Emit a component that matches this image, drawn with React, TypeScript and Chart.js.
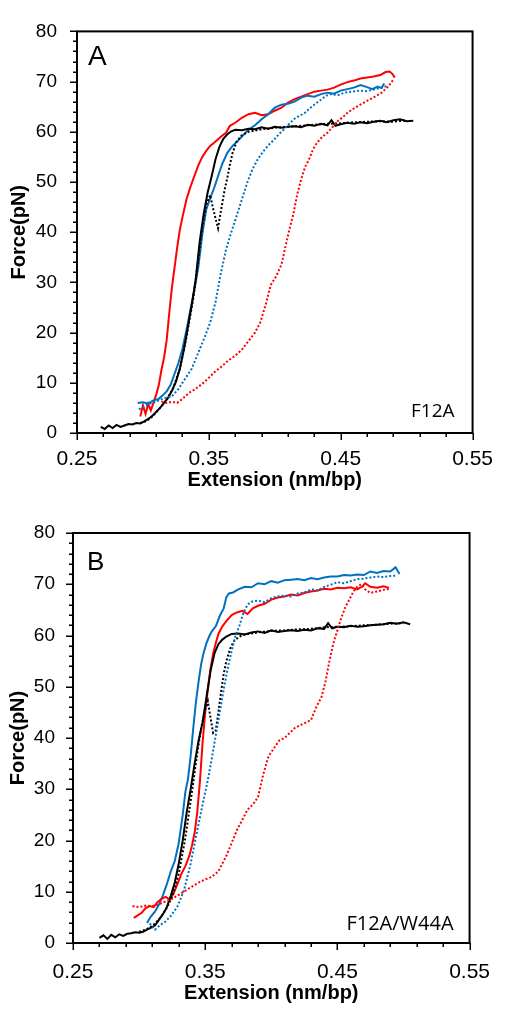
import React, { useEffect, useRef } from "react";
import { Chart, registerables } from "chart.js";

Chart.register(...registerables);

// ---------- shared axis content ----------
const xTickValues = [0.25, 0.35, 0.45, 0.55];
const yTickValues = [0, 10, 20, 30, 40, 50, 60, 70, 80];
const xAxisTitle = "Extension (nm/bp)";
const yAxisTitle = "Force(pN)";
const panelLetters = ["A", "B"];
const panelNotes = ["F12A", "F12A/W44A"];

// ---------- Panel A data ([extension, force]) ----------
const aBlackSolid = [
  [0.268, 1.2], [0.271, 0.8], [0.274, 1.5], [0.277, 1.0], [0.28, 1.6], [0.283, 1.2], [0.286, 1.5], [0.289, 1.8],
  [0.292, 1.7], [0.295, 2.0], [0.298, 1.9], [0.301, 2.3], [0.304, 2.8], [0.307, 3.4], [0.31, 4.2], [0.313, 5.0],
  [0.316, 6.0], [0.319, 7.0], [0.322, 8.4], [0.325, 10.2], [0.328, 12.8], [0.331, 16.5], [0.334, 21.0], [0.337, 25.5],
  [0.34, 30.5], [0.343, 38.0], [0.346, 43.5], [0.349, 47.8], [0.352, 51.0], [0.355, 54.5], [0.358, 57.0], [0.361, 58.6],
  [0.364, 59.5], [0.367, 60.1], [0.37, 60.4], [0.375, 60.3], [0.38, 60.6], [0.385, 60.5], [0.39, 60.9], [0.395, 60.6],
  [0.4, 61.0], [0.405, 60.8], [0.41, 61.0], [0.415, 61.1], [0.42, 60.9], [0.425, 61.4], [0.43, 61.2], [0.435, 61.6],
  [0.44, 61.3], [0.443, 62.3], [0.446, 61.2], [0.45, 61.5], [0.455, 61.8], [0.46, 61.6], [0.465, 61.9], [0.47, 61.7],
  [0.475, 62.0], [0.48, 62.2], [0.485, 61.9], [0.49, 62.3], [0.495, 62.5], [0.5, 62.1], [0.505, 62.2],
];
const aBlackDotted = [
  [0.298, 2.0], [0.303, 2.4], [0.308, 3.5], [0.313, 5.0], [0.318, 6.6], [0.323, 9.0], [0.328, 12.8], [0.333, 19.0],
  [0.338, 26.5], [0.342, 34.5], [0.345, 41.0], [0.348, 45.5], [0.351, 47.4], [0.353, 45.0], [0.355, 42.8], [0.357, 40.8],
  [0.358, 42.5], [0.36, 45.5], [0.362, 48.5], [0.364, 50.8], [0.366, 53.5], [0.368, 55.8], [0.371, 58.0], [0.375, 59.3],
  [0.38, 60.0], [0.39, 60.5], [0.4, 60.8], [0.41, 61.0], [0.42, 61.2], [0.43, 61.4], [0.44, 61.6], [0.45, 61.7],
  [0.46, 61.9], [0.47, 62.0], [0.48, 62.1], [0.49, 62.0], [0.5, 62.3],
];
const aRedSolid = [
  [0.298, 3.3], [0.3, 5.5], [0.302, 3.8], [0.304, 5.8], [0.306, 4.5], [0.308, 6.0], [0.31, 7.6], [0.312, 9.5],
  [0.314, 12.5], [0.316, 15.0], [0.318, 18.5], [0.32, 24.0], [0.322, 29.0], [0.324, 33.0], [0.326, 37.0], [0.328, 40.5],
  [0.33, 43.0], [0.333, 46.5], [0.336, 49.0], [0.339, 51.2], [0.342, 53.3], [0.345, 55.0], [0.348, 56.2], [0.351, 57.2],
  [0.354, 57.8], [0.357, 58.5], [0.36, 59.2], [0.363, 59.8], [0.366, 61.2], [0.37, 61.8], [0.375, 62.8], [0.38, 63.5],
  [0.385, 63.8], [0.39, 63.3], [0.395, 63.5], [0.4, 64.2], [0.405, 64.8], [0.41, 65.8], [0.415, 66.5], [0.42, 67.0],
  [0.425, 67.5], [0.43, 68.0], [0.435, 68.2], [0.44, 68.4], [0.445, 68.8], [0.45, 69.4], [0.455, 69.9], [0.46, 70.2],
  [0.465, 70.6], [0.47, 70.8], [0.475, 71.0], [0.48, 71.3], [0.484, 71.9], [0.487, 72.0], [0.489, 71.6], [0.491, 70.8],
];
const aRedDotted = [
  [0.314, 6.3], [0.318, 6.0], [0.322, 6.2], [0.326, 6.0], [0.33, 6.8], [0.335, 8.0], [0.34, 8.8], [0.345, 9.8],
  [0.35, 11.0], [0.355, 12.3], [0.36, 13.3], [0.365, 14.5], [0.37, 15.4], [0.375, 16.6], [0.38, 18.3], [0.385, 20.0],
  [0.389, 22.0], [0.393, 25.5], [0.397, 29.5], [0.401, 31.2], [0.405, 33.5], [0.408, 37.0], [0.411, 40.5], [0.414, 43.5],
  [0.417, 47.5], [0.42, 50.5], [0.423, 53.0], [0.426, 54.5], [0.429, 56.5], [0.432, 57.8], [0.436, 59.0], [0.44, 59.8],
  [0.444, 61.0], [0.448, 62.2], [0.452, 63.0], [0.456, 64.0], [0.461, 64.8], [0.466, 65.6], [0.471, 66.3], [0.476, 67.0],
  [0.481, 67.8], [0.486, 69.0], [0.49, 70.4],
];
const aBlueSolid = [
  [0.296, 6.0], [0.3, 6.1], [0.304, 5.9], [0.308, 6.5], [0.312, 6.8], [0.315, 7.5], [0.318, 8.3], [0.321, 9.6],
  [0.324, 11.8], [0.327, 14.0], [0.33, 16.8], [0.333, 20.5], [0.336, 24.5], [0.339, 28.5], [0.342, 33.0], [0.345, 39.5],
  [0.348, 44.5], [0.351, 46.8], [0.354, 48.8], [0.357, 51.2], [0.36, 53.5], [0.364, 55.8], [0.368, 57.2], [0.372, 58.2],
  [0.376, 59.3], [0.38, 60.4], [0.385, 61.3], [0.39, 62.5], [0.395, 63.5], [0.4, 64.8], [0.405, 65.4], [0.41, 65.6],
  [0.415, 66.0], [0.42, 66.8], [0.425, 67.2], [0.43, 67.0], [0.435, 67.5], [0.44, 67.8], [0.445, 67.6], [0.45, 68.2],
  [0.455, 68.5], [0.46, 68.8], [0.465, 69.3], [0.47, 68.9], [0.474, 68.5], [0.478, 69.0], [0.481, 68.7], [0.483, 69.6],
];
const aBlueDotted = [
  [0.297, 4.7], [0.302, 5.5], [0.307, 6.0], [0.312, 6.5], [0.317, 7.0], [0.322, 7.3], [0.327, 8.8], [0.332, 10.8],
  [0.337, 12.8], [0.342, 16.0], [0.347, 19.2], [0.351, 22.0], [0.355, 26.0], [0.359, 31.7], [0.363, 36.5], [0.367, 40.0],
  [0.371, 43.2], [0.375, 46.5], [0.379, 49.8], [0.383, 52.5], [0.387, 54.5], [0.391, 56.0], [0.395, 57.3], [0.399, 58.3],
  [0.403, 59.5], [0.407, 60.5], [0.411, 61.6], [0.415, 62.6], [0.419, 63.2], [0.423, 63.8], [0.427, 64.8], [0.431, 65.6],
  [0.435, 66.4], [0.439, 67.2], [0.443, 67.5], [0.448, 67.3], [0.453, 67.8], [0.458, 68.0], [0.464, 68.2], [0.47, 68.1],
  [0.476, 68.5], [0.482, 68.9], [0.486, 69.2],
];

// ---------- Panel B data ([extension, force]) ----------
const bBlackSolid = [
  [0.27, 1.0], [0.273, 1.5], [0.276, 0.8], [0.279, 1.6], [0.282, 1.1], [0.285, 1.7], [0.288, 1.4], [0.291, 1.8],
  [0.294, 1.9], [0.297, 2.1], [0.3, 2.0], [0.303, 2.2], [0.306, 2.6], [0.309, 3.0], [0.312, 3.4], [0.315, 4.5],
  [0.318, 5.6], [0.321, 7.0], [0.324, 9.2], [0.327, 11.8], [0.33, 15.5], [0.333, 20.0], [0.336, 25.5], [0.339, 30.0],
  [0.342, 35.0], [0.345, 39.5], [0.348, 43.0], [0.351, 48.0], [0.354, 53.0], [0.357, 56.5], [0.36, 58.3], [0.363, 59.2],
  [0.366, 59.8], [0.37, 60.3], [0.375, 60.4], [0.38, 60.2], [0.385, 60.6], [0.39, 60.8], [0.395, 60.5], [0.4, 61.0],
  [0.405, 60.7], [0.41, 60.9], [0.415, 61.0], [0.42, 60.9], [0.425, 61.1], [0.43, 61.0], [0.435, 61.4], [0.44, 61.3],
  [0.443, 62.4], [0.446, 61.4], [0.45, 61.7], [0.455, 61.6], [0.46, 61.9], [0.465, 61.7], [0.47, 61.8], [0.475, 62.0],
  [0.48, 62.1], [0.485, 62.2], [0.49, 62.5], [0.495, 62.3], [0.5, 62.6], [0.505, 62.2],
];
const bBlackDotted = [
  [0.3, 2.2], [0.305, 2.6], [0.31, 3.3], [0.315, 4.6], [0.32, 6.4], [0.325, 9.0], [0.33, 13.5], [0.335, 20.5],
  [0.34, 29.5], [0.344, 37.0], [0.347, 42.0], [0.35, 45.5], [0.352, 47.2], [0.354, 44.0], [0.356, 41.0], [0.358, 41.5],
  [0.36, 45.0], [0.362, 49.0], [0.364, 52.5], [0.366, 55.0], [0.369, 57.5], [0.372, 59.0], [0.376, 59.8], [0.38, 60.2],
  [0.39, 60.6], [0.4, 60.9], [0.41, 61.0], [0.42, 61.2], [0.43, 61.3], [0.44, 61.6], [0.45, 61.7], [0.46, 61.8],
  [0.47, 62.0], [0.48, 62.1], [0.49, 62.3], [0.5, 62.4],
];
const bRedSolid = [
  [0.296, 4.9], [0.299, 5.4], [0.302, 5.9], [0.305, 6.8], [0.308, 7.2], [0.311, 7.0], [0.314, 8.0], [0.317, 8.6],
  [0.32, 9.0], [0.323, 8.5], [0.326, 9.6], [0.329, 11.5], [0.332, 13.5], [0.335, 15.0], [0.338, 17.0], [0.34, 19.0],
  [0.342, 21.5], [0.344, 25.5], [0.346, 31.5], [0.348, 39.0], [0.35, 45.0], [0.352, 49.5], [0.354, 53.5], [0.356, 56.5],
  [0.358, 58.5], [0.36, 60.3], [0.363, 61.8], [0.366, 62.8], [0.37, 64.0], [0.374, 64.5], [0.378, 64.8], [0.382, 64.2],
  [0.386, 65.3], [0.39, 65.8], [0.395, 66.2], [0.4, 67.0], [0.405, 67.4], [0.41, 67.6], [0.415, 68.0], [0.42, 67.8],
  [0.425, 68.3], [0.43, 68.6], [0.435, 68.8], [0.44, 69.1], [0.445, 69.0], [0.45, 69.3], [0.455, 69.2], [0.46, 69.4],
  [0.465, 69.0], [0.469, 69.6], [0.471, 70.2], [0.475, 69.5], [0.48, 69.3], [0.485, 69.6], [0.489, 69.3],
];
const bRedDotted = [
  [0.295, 7.2], [0.3, 7.0], [0.305, 7.3], [0.31, 7.2], [0.315, 7.6], [0.32, 8.1], [0.325, 8.6], [0.33, 9.4],
  [0.335, 10.2], [0.34, 11.0], [0.345, 11.8], [0.35, 12.4], [0.355, 12.9], [0.36, 14.0], [0.366, 17.0], [0.37, 19.5],
  [0.374, 22.0], [0.378, 24.0], [0.382, 26.0], [0.386, 27.0], [0.39, 28.5], [0.394, 33.0], [0.398, 36.5], [0.402, 38.0],
  [0.406, 39.5], [0.41, 40.0], [0.414, 41.0], [0.418, 42.0], [0.422, 42.5], [0.426, 43.0], [0.43, 43.5], [0.434, 46.0],
  [0.438, 48.0], [0.441, 51.0], [0.444, 55.0], [0.447, 58.5], [0.45, 61.0], [0.453, 63.5], [0.456, 65.5], [0.459, 67.0],
  [0.462, 68.5], [0.465, 69.5], [0.468, 70.0], [0.471, 69.0], [0.475, 68.3], [0.48, 68.6], [0.485, 68.9], [0.489, 69.1],
];
const bBlueSolid = [
  [0.306, 3.9], [0.309, 5.2], [0.312, 6.1], [0.315, 7.5], [0.318, 9.3], [0.321, 11.5], [0.324, 14.0], [0.327, 16.0],
  [0.33, 19.5], [0.333, 25.0], [0.335, 29.5], [0.337, 32.0], [0.339, 36.5], [0.341, 42.0], [0.343, 47.0], [0.345, 51.0],
  [0.347, 54.5], [0.349, 56.8], [0.351, 58.5], [0.353, 59.8], [0.355, 60.8], [0.358, 61.8], [0.361, 63.8], [0.364, 65.3],
  [0.366, 67.5], [0.368, 68.2], [0.371, 68.4], [0.375, 69.0], [0.38, 69.5], [0.385, 69.4], [0.39, 70.2], [0.395, 70.0],
  [0.4, 70.6], [0.405, 70.3], [0.41, 70.8], [0.415, 70.9], [0.42, 71.0], [0.425, 70.8], [0.43, 71.2], [0.435, 71.0],
  [0.44, 71.3], [0.445, 71.5], [0.45, 71.5], [0.455, 71.8], [0.46, 71.7], [0.465, 71.9], [0.47, 71.8], [0.475, 72.5],
  [0.48, 72.2], [0.485, 72.6], [0.49, 72.5], [0.494, 73.3], [0.497, 72.0],
];
const bBlueDotted = [
  [0.308, 3.8], [0.312, 2.6], [0.316, 3.5], [0.32, 4.2], [0.324, 5.3], [0.329, 7.1], [0.334, 10.3], [0.339, 15.5],
  [0.344, 22.0], [0.348, 27.0], [0.352, 31.8], [0.355, 36.0], [0.358, 40.5], [0.361, 45.0], [0.364, 49.5],
  [0.367, 53.5], [0.37, 57.0], [0.373, 60.0], [0.376, 62.0], [0.379, 64.5], [0.382, 66.0], [0.385, 66.6], [0.39, 66.8],
  [0.395, 66.5], [0.4, 67.3], [0.405, 67.6], [0.41, 67.8], [0.415, 67.6], [0.42, 68.2], [0.425, 68.4], [0.43, 69.0],
  [0.435, 68.8], [0.44, 69.5], [0.445, 69.9], [0.45, 70.4], [0.455, 70.2], [0.46, 70.6], [0.465, 71.0], [0.47, 71.1],
  [0.475, 71.3], [0.48, 71.5], [0.485, 71.4], [0.49, 71.6], [0.495, 71.7],
];

const RED = "#FF0000";
const BLUE = "#0070C0";
const BLACK = "#000000";
const FONT = '"Liberation Sans", Arial, sans-serif';
const NOTE_FONT = '"Open Sans", "Liberation Sans", sans-serif';

type Series = { pts: number[][]; color: string; dotted: boolean };

const seriesA: Series[] = [
  { pts: aRedDotted, color: RED, dotted: true },
  { pts: aBlueDotted, color: BLUE, dotted: true },
  { pts: aBlackDotted, color: BLACK, dotted: true },
  { pts: aBlackSolid, color: BLACK, dotted: false },
  { pts: aBlueSolid, color: BLUE, dotted: false },
  { pts: aRedSolid, color: RED, dotted: false },
];
const seriesB: Series[] = [
  { pts: bRedDotted, color: RED, dotted: true },
  { pts: bBlueDotted, color: BLUE, dotted: true },
  { pts: bBlackDotted, color: BLACK, dotted: true },
  { pts: bBlackSolid, color: BLACK, dotted: false },
  { pts: bRedSolid, color: RED, dotted: false },
  { pts: bBlueSolid, color: BLUE, dotted: false },
];

type Layout = {
  height: number;
  padTop: number;
  padRight: number;
  yWidth: number;
  xHeight: number;
  yTickPad: number;
  xTickPad: number;
  xTitlePad: number;
  yTitlePad: number;
  letterSize: number;
  letterDx: number;
  letterDy: number;
  noteSize: number;
  noteDx: number;
  noteDy: number;
};

function Panel({ series, letter, note, lay }: { series: Series[]; letter: string; note: string; lay: Layout }) {
  const ref = useRef<HTMLCanvasElement>(null);
  useEffect(() => {
    const canvas = ref.current;
    if (!canvas) return;
    const framePlugin = {
      id: "frameTicks",
      afterDatasetsDraw(chart: any) {
        const { ctx, chartArea: ca, scales } = chart;
        const xs = scales.x;
        const ys = scales.y;
        ctx.save();
        ctx.strokeStyle = "#000";
        ctx.lineWidth = 1.5;
        ctx.beginPath();
        for (let k = 0; k <= 15; k++) {
          const px = Math.round(xs.getPixelForValue(0.25 + 0.02 * k)) + 0.25;
          const len = k % 5 === 0 ? 7 : 4;
          ctx.moveTo(px, ca.bottom);
          ctx.lineTo(px, ca.bottom + len);
        }
        for (let k = 0; k <= 40; k++) {
          const py = Math.round(ys.getPixelForValue(2 * k)) + 0.25;
          const len = k % 5 === 0 ? 7 : 4;
          ctx.moveTo(ca.left - len, py);
          ctx.lineTo(ca.left, py);
        }
        ctx.stroke();
        ctx.lineWidth = 2;
        ctx.strokeRect(ca.left, ca.top, ca.right - ca.left, ca.bottom - ca.top);
        ctx.fillStyle = "#000";
        ctx.textBaseline = "alphabetic";
        ctx.textAlign = "left";
        ctx.font = `${lay.letterSize}px ${FONT}`;
        ctx.fillText(letter, ca.left + lay.letterDx, ca.top + lay.letterDy);
        ctx.textAlign = "right";
        ctx.font = `${lay.noteSize}px ${NOTE_FONT}`;
        ctx.fillText(note, ca.right - lay.noteDx, ca.bottom - lay.noteDy);
        ctx.restore();
      },
    };
    const chart = new Chart(canvas, {
      type: "scatter",
      data: {
        datasets: series.map((s) => ({
          data: s.pts.map((p) => ({ x: p[0], y: p[1] })),
          showLine: true,
          borderColor: s.color,
          backgroundColor: s.color,
          borderWidth: 2,
          borderDash: s.dotted ? [2, 2] : [],
          pointRadius: 0,
          pointHoverRadius: 0,
          tension: 0,
        })),
      },
      options: {
        animation: false,
        responsive: false,
        events: [],
        layout: { padding: { top: lay.padTop, right: lay.padRight, left: 0, bottom: 0 } },
        plugins: { legend: { display: false }, tooltip: { enabled: false } },
        scales: {
          x: {
            type: "linear",
            min: 0.25,
            max: 0.55,
            grid: { display: false, drawTicks: false },
            border: { display: false },
            afterBuildTicks: (s: any) => {
              s.ticks = xTickValues.map((v) => ({ value: v }));
            },
            afterFit: (s: any) => {
              s.height = lay.xHeight;
            },
            ticks: {
              autoSkip: false,
              maxRotation: 0,
              padding: lay.xTickPad,
              color: "#000",
              font: { family: FONT, size: 21 },
              callback: (v: any) => Number(v).toFixed(2),
            },
            title: {
              display: true,
              text: xAxisTitle,
              color: "#000",
              font: { family: FONT, size: 20, weight: "bold" },
              padding: { top: 0, bottom: lay.xTitlePad },
            },
          },
          y: {
            type: "linear",
            min: 0,
            max: 80,
            grid: { display: false, drawTicks: false },
            border: { display: false },
            afterBuildTicks: (s: any) => {
              s.ticks = yTickValues.map((v) => ({ value: v }));
            },
            afterFit: (s: any) => {
              s.width = lay.yWidth;
            },
            ticks: {
              padding: lay.yTickPad,
              color: "#000",
              font: { family: FONT, size: 19 },
              callback: (v: any) => String(v),
            },
            title: {
              display: true,
              text: yAxisTitle,
              color: "#000",
              font: { family: FONT, size: 20, weight: "bold" },
              padding: { top: lay.yTitlePad, bottom: 0 },
            },
          },
        },
      } as any,
      plugins: [framePlugin],
    });
    return () => chart.destroy();
  }, []);
  return <canvas ref={ref} width={507} height={lay.height} style={{ display: "block", width: 507, height: lay.height }} />;
}

const layoutA: Layout = {
  height: 500, padTop: 17, padRight: 28, yWidth: 77, xHeight: 67, yTickPad: 20, xTickPad: 14,
  xTitlePad: 8, yTitlePad: 7, letterSize: 28, letterDx: 11, letterDy: 34, noteSize: 19, noteDx: 18, noteDy: 16,
};
const layoutB: Layout = {
  height: 514, padTop: 33, padRight: 28, yWidth: 73, xHeight: 71, yTickPad: 18, xTickPad: 17,
  xTitlePad: 9, yTitlePad: 6, letterSize: 26, letterDx: 14, letterDy: 37, noteSize: 20, noteDx: 16, noteDy: 13,
};

export default function App() {
  return (
    <div style={{ position: "absolute", left: 0, top: 0, width: 507, height: 1014, background: "#fff" }}>
      <Panel series={seriesA} letter={panelLetters[0]} note={panelNotes[0]} lay={layoutA} />
      <Panel series={seriesB} letter={panelLetters[1]} note={panelNotes[1]} lay={layoutB} />
    </div>
  );
}
